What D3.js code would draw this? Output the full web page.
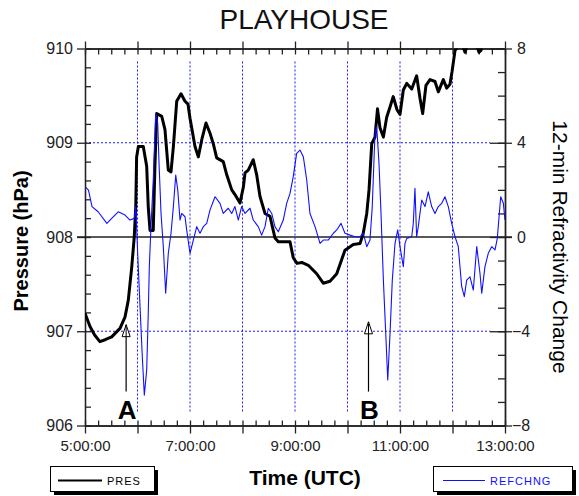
<!DOCTYPE html>
<html><head><meta charset="utf-8">
<script src="https://cdn.jsdelivr.net/npm/d3@7/dist/d3.min.js"></script>
<style>
body{margin:0;background:#fff;}
svg{display:block;font-family:"Liberation Sans",Arial,sans-serif;}
</style></head>
<body><svg id="c" width="579" height="496"></svg>
<script>
// ---- data (time in minutes after 00:00 UTC) ----
const presData = [[300,907.19],[305.7,907.05],[311,906.96],[317,906.89],[323,906.91],[330.5,906.94],[340,907.03],[345.7,907.15],[349.5,907.33],[353.4,907.68],[356.3,908.00],[358,908.32],[359,908.85],[361,908.96],[366.6,908.96],[370.5,908.75],[372.3,908.32],[374.3,908.07],[378,908.07],[380,908.78],[382,909.31],[387.7,909.28],[391.4,909.14],[395.2,908.71],[398.3,908.69],[401,908.96],[404.8,909.44],[409.7,909.52],[414.3,909.44],[417.7,909.41],[420,909.26],[422.3,909.14],[425.7,908.96],[429.5,908.85],[433.4,909.03],[438.3,909.21],[442.9,909.10],[446.6,908.99],[450.5,908.84],[458,908.80],[462,908.66],[467.7,908.50],[471.4,908.45],[477.1,908.36],[481,908.53],[482.9,908.68],[486.6,908.71],[492.3,908.82],[496.2,908.66],[500,908.43],[505.7,908.25],[511.4,908.22],[517.1,907.99],[520.9,907.95],[534.3,907.95],[538,907.78],[542.3,907.72],[547.7,907.73],[555.2,907.70],[564.8,907.61],[572.3,907.51],[580,907.53],[587.7,907.61],[597.1,907.86],[606.6,907.92],[614.3,907.93],[618,908.04],[622,908.25],[624.6,908.50],[627.7,908.99],[631.4,909.06],[634.3,909.36],[637.1,909.16],[641,909.06],[644.8,909.27],[648.6,909.38],[652.3,909.49],[656.6,909.35],[660,909.30],[663.8,909.56],[667.7,909.63],[673.4,909.57],[679,909.71],[682.9,909.47],[685.9,909.31],[689.7,909.61],[694.3,909.67],[700,909.65],[703.8,909.54],[709.5,909.67],[713.4,909.58],[717.1,909.62],[719.4,909.75],[722.9,909.98],[726.3,910.02],[730.9,910.05],[734.3,909.96],[737.7,910.05],[746.9,910.05],[750.3,909.96],[752.6,909.98],[753.7,910.05]];

const refData = [[300,2.14],[304,1.99],[308,1.29],[315,1.07],[325,0.58],[330.5,0.79],[338,1.07],[345.7,0.93],[351.4,0.72],[356.3,0.79],[358,1.29],[360.2,-0.69],[362.9,-2.96],[365.5,-5.08],[367.8,-6.71],[370.5,-5.65],[372.3,-3.24],[373.5,-1.26],[375.4,0.44],[378,2.42],[380.8,5.25],[383.1,4.83],[384.6,3.13],[386.9,1.00],[389.5,-0.41],[392.2,-2.39],[395.2,-0.69],[398.3,0.16],[401,1.29],[403.7,2.63],[406,1.99],[408.6,0.72],[410.5,1.00],[414.3,0.86],[416.2,0.30],[420,-0.69],[423.8,-0.13],[427.7,0.44],[431.4,0.16],[435.2,0.44],[439.1,0.58],[442.9,1.15],[448.6,1.71],[454.3,1.43],[458,1.00],[463.8,1.22],[467.7,1.00],[471.4,1.29],[475.2,0.72],[479,1.29],[482.9,1.00],[488.6,1.22],[492.3,0.72],[498,0.44],[501.9,0.08],[505.7,0.44],[509.5,1.22],[513.4,1.00],[517.1,0.44],[520.9,0.22],[526.6,0.72],[530.5,1.43],[534.3,1.85],[538,2.56],[541.9,3.55],[545.7,3.69],[549.5,3.41],[553.4,2.42],[557.1,1.00],[562.9,0.44],[568.6,-0.27],[572.3,-0.13],[578,-0.13],[583.8,0.16],[587.7,0.30],[592.6,0.58],[597.1,0.16],[602.9,0.08],[608.6,0.01],[614.3,0.01],[618,0.16],[622,-0.41],[625.7,-0.13],[628.3,1.29],[631.4,4.40],[633.4,4.68],[636,3.13],[638.3,1.00],[641,-1.83],[643.7,-4.09],[646,-6.07],[648.6,-4.09],[651.2,-1.83],[654.3,-0.27],[657.4,0.30],[660,-0.41],[663.8,-1.26],[665.7,-0.27],[667.7,-0.06],[673.4,0.01],[675.2,0.58],[677.1,2.07],[679,0.01],[680.9,0.44],[684.8,1.57],[688.6,1.29],[692.3,1.92],[696.2,1.29],[700,1.00],[703.8,1.29],[707.7,1.43],[711.4,1.71],[715.2,1.29],[719.1,0.58],[722.9,0.01],[726.6,-0.41],[730.5,-2.11],[733.5,-2.53],[736.2,-1.83],[740,-1.69],[743.8,-2.25],[747.7,-0.41],[751.4,-1.54],[753.4,-2.39],[757.1,-1.26],[760.9,-0.69],[764.8,-0.41],[768.6,-0.55],[771.2,-0.06],[773.5,1.00],[775.1,1.71],[778.1,1.43],[780,0.72]];

const timeMajor = [300,360,420,480,540,600,660,720,780];
const timeLabels = {300:"5:00:00",420:"7:00:00",540:"9:00:00",660:"11:00:00",780:"13:00:00"};
const presMajor = [906,907,908,909,910];
const refMajor = [-8,-4,0,4,8];
const annotations = [{label:"A", t:347, tip:907.07, base:906.36}, {label:"B", t:624, tip:907.10, base:906.36}];

// ---- layout ----
const L=85, R=505, T=48.5, B=425.5;
const svg = d3.select("#c");
const x = d3.scaleLinear().domain([300,780]).range([L,R]);
const yP = d3.scaleLinear().domain([906,910]).range([B,T]);
const yR = d3.scaleLinear().domain([-8,8]).range([B,T]);
const axisCol = "#222", gridCol = "#1a1aff";

const timeMinor = d3.range(300,781,15);
const presMinor = d3.range(0,21).map(i=>906+i*0.2);
const refMinor = d3.range(-8,9,1);

// grid
const grid = svg.append("g").attr("stroke",gridCol).attr("stroke-width",1).attr("stroke-dasharray","2,2");
timeMajor.slice(1,-1).forEach(t=>grid.append("line").attr("x1",x(t)).attr("x2",x(t)).attr("y1",T+13).attr("y2",B-12));
[907,909].forEach(p=>grid.append("line").attr("x1",L).attr("x2",R-15).attr("y1",yP(p)).attr("y2",yP(p)));

// zero line
svg.append("line").attr("x1",L-8).attr("x2",R+7).attr("y1",yP(908)).attr("y2",yP(908)).attr("stroke",axisCol).attr("stroke-width",1.3);

function styleAxis(g){ g.selectAll("path,line").attr("stroke",axisCol).attr("stroke-width",1.3); g.selectAll("text").attr("fill","#222").attr("font-family","'Liberation Sans',Arial,sans-serif"); }

// bottom
svg.append("g").attr("transform",`translate(0,${B})`).call(d3.axisBottom(x).tickValues(timeMajor).tickSizeInner(8).tickSizeOuter(0).tickPadding(7).tickFormat(d=>timeLabels[d]||"")).call(styleAxis).selectAll("text").attr("font-size",15);
svg.append("g").attr("transform",`translate(0,${B})`).call(d3.axisBottom(x).tickValues(timeMinor).tickSizeInner(-5).tickSizeOuter(0).tickFormat("")).call(styleAxis);
// top
svg.append("g").attr("transform",`translate(0,${T})`).call(d3.axisTop(x).tickValues(timeMajor).tickSizeInner(7).tickSizeOuter(0).tickFormat("")).call(styleAxis);
svg.append("g").attr("transform",`translate(0,${T})`).call(d3.axisTop(x).tickValues(timeMinor).tickSizeInner(-6).tickSizeOuter(0).tickFormat("")).call(styleAxis);
// left
svg.append("g").attr("transform",`translate(${L},0)`).call(d3.axisLeft(yP).tickValues(presMajor).tickSizeInner(8).tickSizeOuter(0).tickPadding(4).tickFormat(d3.format("d"))).call(styleAxis).selectAll("text").attr("font-size",16);
svg.append("g").attr("transform",`translate(${L},0)`).call(d3.axisLeft(yP).tickValues(presMinor).tickSizeInner(-6).tickSizeOuter(0).tickFormat("")).call(styleAxis);
// right
const rAx = svg.append("g").attr("transform",`translate(${R},0)`).call(d3.axisRight(yR).tickValues(refMajor).tickSizeInner(7).tickSizeOuter(0).tickPadding(0).tickFormat(d3.format("d"))).call(styleAxis);
rAx.selectAll("text").attr("font-size",16).attr("x",d=>d>=0?12:7);
svg.append("g").attr("transform",`translate(${R},0)`).call(d3.axisRight(yR).tickValues(refMajor).tickSizeInner(-15).tickSizeOuter(0).tickFormat("")).call(styleAxis);
svg.append("g").attr("transform",`translate(${R},0)`).call(d3.axisRight(yR).tickValues(refMinor).tickSizeInner(-7).tickSizeOuter(0).tickFormat("")).call(styleAxis);

// clip
svg.append("clipPath").attr("id","plot").append("rect").attr("x",L).attr("y",T).attr("width",R-L).attr("height",B-T);

// lines
svg.append("path").datum(presData).attr("clip-path","url(#plot)").attr("fill","none").attr("stroke","#000").attr("stroke-width",3).attr("stroke-linejoin","round")
  .attr("d",d3.line().x(d=>x(d[0])).y(d=>yP(d[1])));
svg.append("path").datum(refData).attr("clip-path","url(#plot)").attr("fill","none").attr("stroke","#1010ff").attr("stroke-width",1.1).attr("stroke-linejoin","round")
  .attr("d",d3.line().x(d=>x(d[0])).y(d=>yR(d[1])));

// annotations
annotations.forEach(a=>{
  const ax=x(a.t), yt=yP(a.tip), yb=yP(a.base);
  svg.append("line").attr("x1",ax).attr("x2",ax).attr("y1",yb).attr("y2",yt).attr("stroke","#000").attr("stroke-width",1.2);
  svg.append("path").attr("d",`M${ax},${yt} L${ax-4},${yt+12} L${ax+4},${yt+12} Z`).attr("fill","#fff").attr("stroke","#000").attr("stroke-width",1);
  svg.append("line").attr("x1",ax).attr("x2",ax).attr("y1",yt+12).attr("y2",yt+2).attr("stroke","#000").attr("stroke-width",1);
  svg.append("text").attr("x",ax+1).attr("y",B-7).attr("text-anchor","middle").attr("font-size",26).attr("font-weight","bold").text(a.label);
});

// titles
svg.append("text").attr("x",304).attr("y",29).attr("text-anchor","middle").attr("font-size",28).attr("fill","#111").text("PLAYHOUSE");
svg.append("text").attr("transform","translate(28,241) rotate(-90)").attr("text-anchor","middle").attr("font-size",20).attr("font-weight","bold").text("Pressure (hPa)");
svg.append("text").attr("x",305).attr("y",485).attr("text-anchor","middle").attr("font-size",21).attr("font-weight","bold").text("Time (UTC)");
svg.append("text").attr("transform","translate(553,247) rotate(90)").attr("text-anchor","middle").attr("font-size",21).text("12-min Refractivity Change");

// legends
function legend(x0,w,label,col,sw,lx1,lx2){
  svg.append("rect").attr("x",x0+4).attr("y",470).attr("width",w).attr("height",25).attr("fill","#000");
  svg.append("rect").attr("x",x0+0.5).attr("y",466.5).attr("width",w).attr("height",25).attr("fill","#fff").attr("stroke","#000").attr("stroke-width",1);
  svg.append("line").attr("x1",lx1).attr("x2",lx2).attr("y1",480.5).attr("y2",480.5).attr("stroke",col).attr("stroke-width",sw);
  svg.append("text").attr("x",lx2+5).attr("y",484.5).attr("font-size",11).attr("letter-spacing",1).attr("fill",col).text(label);
}
legend(50,104,"PRES","#000",2,58,102);
legend(433,139,"REFCHNG","#1010ff",1,443,485);
</script></body></html>
